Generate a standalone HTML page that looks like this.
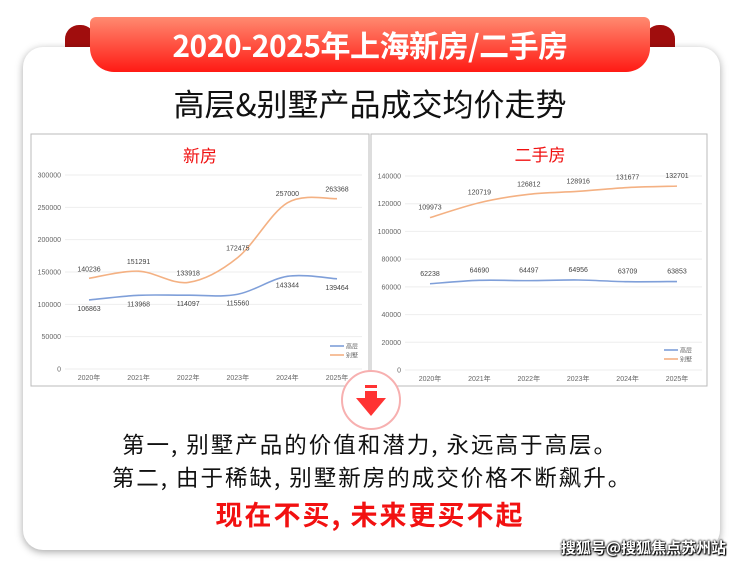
<!DOCTYPE html>
<html><head><meta charset="utf-8"><style>
body{margin:0;width:740px;height:565px;background:#fff;overflow:hidden;position:relative;font-family:"Noto Sans CJK SC","Liberation Sans",sans-serif}
.card{position:absolute;left:23px;top:47px;width:697px;height:503px;background:#fff;border-radius:20px;box-shadow:0 2px 8px rgba(0,0,0,.35)}
.fold{position:absolute;top:25px;width:30px;height:24px;background:#a00d0d;border-radius:14px 14px 0 0}
.rib{position:absolute;left:90px;top:17px;width:560px;height:55px;background:linear-gradient(#ff8a70,#ff1a14);border-radius:6px 6px 24px 24px;color:#fff;font-weight:bold;font-size:30px;text-align:center;line-height:54px;letter-spacing:-0.5px}
.sub{position:absolute;left:0;width:740px;top:80px;text-align:center;font-size:31px;color:#111}
.t{position:absolute;left:0;width:740px;text-align:center;color:#111;font-size:22.5px;letter-spacing:2px;white-space:pre}
svg text{font-family:"Liberation Sans","Noto Sans CJK SC",sans-serif}
</style></head><body>
<div class="fold" style="left:65px"></div><div class="fold" style="left:645px"></div>
<div class="card"></div>
<div class="rib">2020-2025年上海新房/二手房</div>
<div class="sub">高层&amp;别墅产品成交均价走势</div>
<svg id="s" width="740" height="565" style="position:absolute;left:0;top:0">
<rect x="31" y="134" width="338" height="252" fill="#fff" stroke="#bbb"/>
<rect x="371" y="134" width="336" height="252" fill="#fff" stroke="#bbb"/>
<text x="200" y="162" font-size="17" fill="#f01010" text-anchor="middle">新房</text>
<text x="540" y="161" font-size="17" fill="#f01010" text-anchor="middle">二手房</text>
<g id="g"></g>
<circle cx="371" cy="400" r="29" fill="#fff" stroke="#f7b0b0" stroke-width="2"/>
<rect x="365" y="385" width="12" height="3" fill="#f33"/>
<rect x="365" y="391" width="12" height="7" fill="#f33"/>
<polygon points="356,398 386,398 371,416" fill="#f33"/>
</svg>
<div class="t" style="top:428px">第一, 别墅产品的价值和潜力, 永远高于高层。</div>
<div class="t" style="top:461px;left:2px">第二, 由于稀缺, 别墅新房的成交价格不断飙升。</div>
<div class="t" style="top:494px;color:#f21111;font-weight:bold;font-size:27px">现在不买, 未来更买不起</div>
<div style="position:absolute;right:14px;top:537px;font-size:15px;color:#fff;font-weight:bold;text-shadow:0 0 2px #000,0 0 2px #000,1px 1px 1px #000">搜狐号@搜狐焦点苏州站</div>
<script>
var g=document.getElementById('g'),h='';
function ch(o){
 var x0=o.x0,st=(o.x1-o.x0)/5;
 for(var i=0;i<=o.n;i++){var v=i*o.step,y=o.y0-v*o.k;
  h+='<line x1="'+(o.lx+4)+'" x2="'+(o.x1+25)+'" y1="'+y+'" y2="'+y+'" stroke="#eee"/>';
  h+='<text x="'+o.lx+'" y="'+(y+2.5)+'" font-size="7" fill="#666" text-anchor="end">'+v+'</text>';}
 for(var i=0;i<6;i++)h+='<text x="'+(x0+i*st)+'" y="'+(o.y0+11)+'" font-size="7" fill="#666" text-anchor="middle">'+(2020+i)+'年</text>';
 o.s.forEach(function(s,si){
  var p=s.d.map(function(v,i){return [x0+i*st,o.y0-v*o.k]});
  var d='M'+p[0];
  for(var i=0;i<5;i++){var a=p[i-1]||p[i],b=p[i],c=p[i+1],e=p[i+2]||c;
   d+=' C'+(b[0]+(c[0]-a[0])/6)+','+(b[1]+(c[1]-a[1])/6)+' '+(c[0]-(e[0]-b[0])/6)+','+(c[1]-(e[1]-b[1])/6)+' '+c[0]+','+c[1];}
  h+='<path d="'+d+'" fill="none" stroke="'+s.c+'" stroke-width="1.6"/>';
  s.d.forEach(function(v,i){h+='<text x="'+p[i][0]+'" y="'+(p[i][1]+s.off[i])+'" font-size="7" fill="#444" text-anchor="middle">'+v+'</text>';});
  var ly=o.ly+si*9;
  h+='<line x1="'+o.lgx+'" x2="'+(o.lgx+14)+'" y1="'+ly+'" y2="'+ly+'" stroke="'+s.c+'" stroke-width="1.6"/><text x="'+(o.lgx+16)+'" y="'+(ly+2.5)+'" font-size="6" fill="#666">'+s.n+'</text>';
 });}
ch({x0:89,x1:337,y0:369,k:194/300000,step:50000,n:6,lx:61,ly:346,lgx:330,s:[
 {n:'高层',c:'#7f9fd9',d:[106863,113968,114097,115560,143344,139464],off:[11,11,11,11,11,11]},
 {n:'别墅',c:'#f4b183',d:[140236,151291,133918,172475,257000,263368],off:[-7,-7,-7,-7,-7,-7]}]});
ch({x0:430,x1:677,y0:370,k:194/140000,step:20000,n:7,lx:401,ly:350,lgx:664,s:[
 {n:'高层',c:'#7f9fd9',d:[62238,64690,64497,64956,63709,63853],off:[-8,-8,-8,-8,-8,-8]},
 {n:'别墅',c:'#f4b183',d:[109973,120719,126812,128916,131677,132701],off:[-8,-8,-8,-8,-8,-8]}]});
g.innerHTML=h;
</script>
</body></html>
